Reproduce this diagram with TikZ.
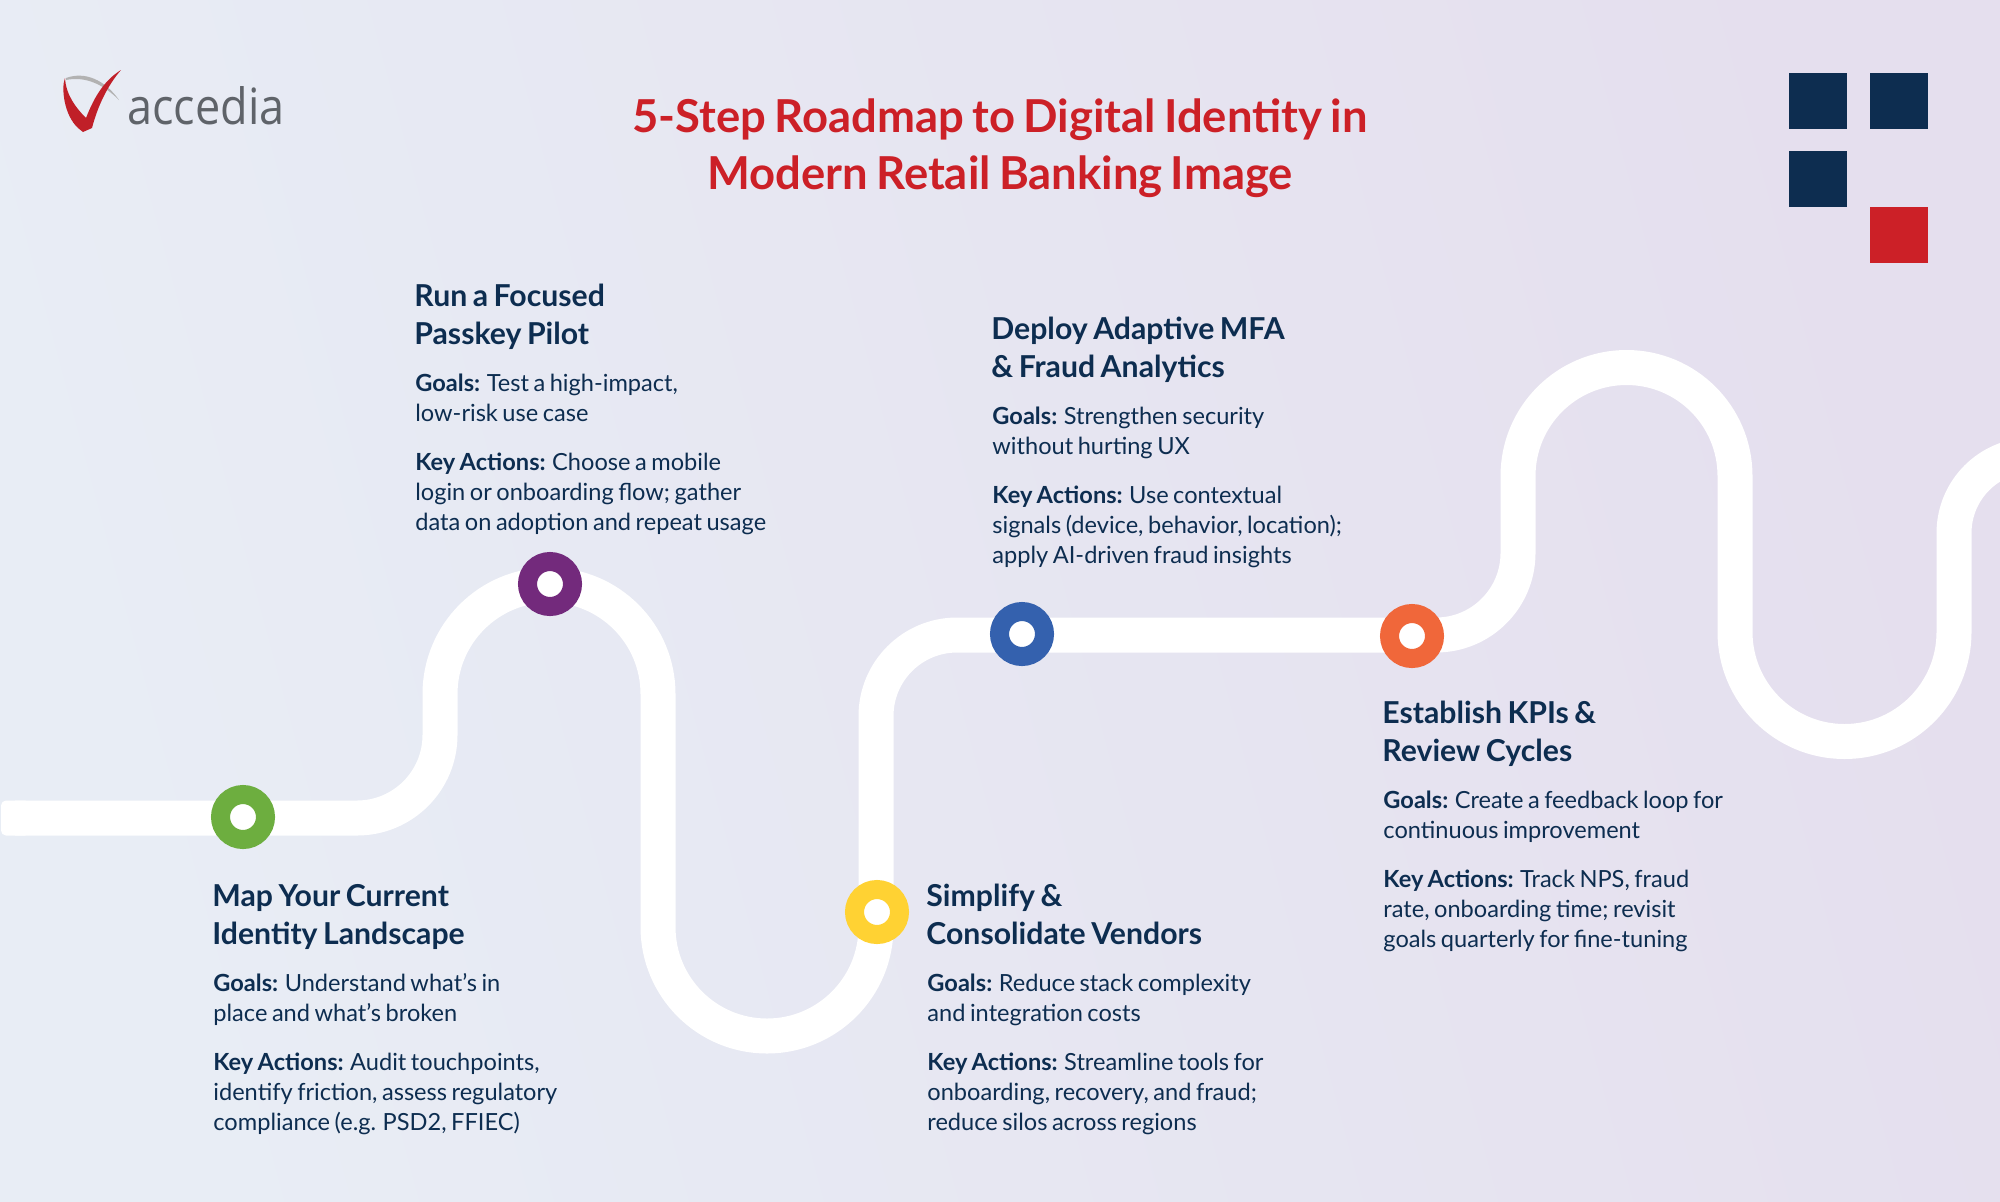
\documentclass[tikz,border=0pt]{standalone}
\usepackage{fontspec}
\setmainfont{Lato}[WordSpace=0.75]
\newfontfamily\logofont{Open Sans}[FakeStretch=0.9]
\definecolor{navy}{HTML}{0D2D50}
\definecolor{brandred}{HTML}{CC2027}
\definecolor{checkdark}{HTML}{B41E28}
\definecolor{bgL}{HTML}{E8EDF5}
\definecolor{bgM}{HTML}{E7E9F3}
\definecolor{bgR}{HTML}{E5DFEE}
\definecolor{logogrey}{HTML}{5F6369}
\definecolor{ringgreen}{HTML}{6DAE3F}
\definecolor{ringpurple}{HTML}{732A7C}
\definecolor{ringyellow}{HTML}{FFD233}
\definecolor{ringblue}{HTML}{3461AE}
\definecolor{ringorange}{HTML}{F0673A}
\tikzset{
  road/.style={line width=17.5pt,white,line join=round},
  ringnode/.style={circle,inner sep=0pt,outer sep=0pt,line width=9.5pt,draw=#1,fill=white,minimum size=22.5pt},
  headtext/.style={anchor=north west,inner sep=0pt,align=left,text=navy,font=\fontsize{15.1}{19}\selectfont\bfseries},
  bodytext/.style={anchor=north west,inner sep=0pt,align=left,text=navy,font=\fontsize{11.8}{15}\selectfont},
  titletext/.style={anchor=north,inner sep=0pt,align=center,text=brandred,font=\fontsize{22.7}{28.5}\selectfont\bfseries},
  squarebox/.style={minimum width=29pt,minimum height=28pt,inner sep=0pt,outer sep=0pt,anchor=north west,fill=#1},
}
\newcommand{\hfirst}{\rule{0pt}{12pt}}
\newcommand{\bfirst}{\rule{0pt}{10pt}}
\newcommand{\tfirst}{\rule{0pt}{18pt}}
% #1 name, #2 x, #3 baseline of the first heading line, #4 heading, #5 goals, #6 actions
\newcommand{\stepblock}[6]{%
  \node[headtext] (#1h) at (#2,#3-24) {\hfirst #4};
  \node[bodytext] (#1g) at (#2+1,#3+85-20) {\bfirst #5};
  \node[bodytext] (#1a) at (#2+1,#3+164-20) {\bfirst #6};
}
\begin{document}
\begin{tikzpicture}[x=0.5pt,y=-0.5pt]
\useasboundingbox (0,0) rectangle (2000,1201);
\shade[left color=bgL,middle color=bgM,right color=bgR,shading angle=105] (0,0) rectangle (2000,1201);
% road
\fill[white,rounded corners=2.5pt] (1,800.5) rectangle (30,835.5);
\draw[road] (15,818) -- (357,818) arc[start angle=90,end angle=0,radius=83] -- (440,694)
  arc[start angle=180,end angle=360,radius=109] -- (658,927)
  arc[start angle=180,end angle=0,radius=109] -- (876,716)
  arc[start angle=180,end angle=270,radius=81] -- (1436,635)
  arc[start angle=90,end angle=0,radius=82] -- (1518,476)
  arc[start angle=180,end angle=360,radius=108.5] -- (1735,632)
  arc[start angle=180,end angle=0,radius=109.5] -- (1954,533)
  arc[start angle=180,end angle=270,radius=78];
% rings
\node[ringnode=ringgreen] (r1) at (243,817) {};
\node[ringnode=ringpurple] (r2) at (550,584) {};
\node[ringnode=ringyellow] (r3) at (877,912) {};
\node[ringnode=ringblue] (r4) at (1022,634) {};
\node[ringnode=ringorange] (r5) at (1412,636) {};
% squares
\node[squarebox=navy] (sq1) at (1789,73) {};
\node[squarebox=navy] (sq2) at (1870,73) {};
\node[squarebox=navy] (sq3) at (1789,151) {};
\node[squarebox=brandred] (sq4) at (1870,207) {};
% logo
\fill[gray!60] (66,78) .. controls (85,71) and (105,80) .. (119,100) .. controls (103,84) and (85,76) .. (66,80) -- cycle;
\fill[checkdark!50!brandred] (121,70) .. controls (105,80) and (95,95) .. (86,118) .. controls (76,108) and (66,95) .. (65,78)
  .. controls (61,88) and (64,115) .. (78,128) -- (83,132) -- (92,128) .. controls (98,105) and (108,85) .. (121,70) -- cycle;
\node[anchor=base west,inner sep=0pt,text=logogrey,font=\logofont\fontsize{25}{30}\selectfont] (logo) at (127,124) {accedia};
% title
\node[titletext] (title) at (1000,131-34.5) {\tfirst 5-Step Roadmap to Digital Identity in\\Modern Retail Banking Image};
% text
\stepblock{a}{212}{906}{Map Your Current\\Identity Landscape}
 {\textbf{Goals:} Understand what’s in\\place and what’s broken}
 {\textbf{Key Actions:} Audit touchpoints,\\identify friction, assess regulatory\\compliance (e.g. PSD2, FFIEC)}
\stepblock{b}{414}{306}{Run a Focused\\Passkey Pilot}
 {\textbf{Goals:} Test a high-impact,\\low-risk use case}
 {\textbf{Key Actions:} Choose a mobile\\login or onboarding flow; gather\\data on adoption and repeat usage}
\stepblock{c}{926}{906}{Simplify \&\\Consolidate Vendors}
 {\textbf{Goals:} Reduce stack complexity\\and integration costs}
 {\textbf{Key Actions:} Streamline tools for\\onboarding, recovery, and fraud;\\reduce silos across regions}
\stepblock{d}{991}{339}{Deploy Adaptive MFA\\\& Fraud Analytics}
 {\textbf{Goals:} Strengthen security\\without hurting UX}
 {\textbf{Key Actions:} Use contextual\\signals (device, behavior, location);\\apply AI-driven fraud insights}
\stepblock{e}{1382}{723}{Establish KPIs \&\\Review Cycles}
 {\textbf{Goals:} Create a feedback loop for\\continuous improvement}
 {\textbf{Key Actions:} Track NPS, fraud\\rate, onboarding time; revisit\\goals quarterly for fine-tuning}
\end{tikzpicture}
\end{document}
